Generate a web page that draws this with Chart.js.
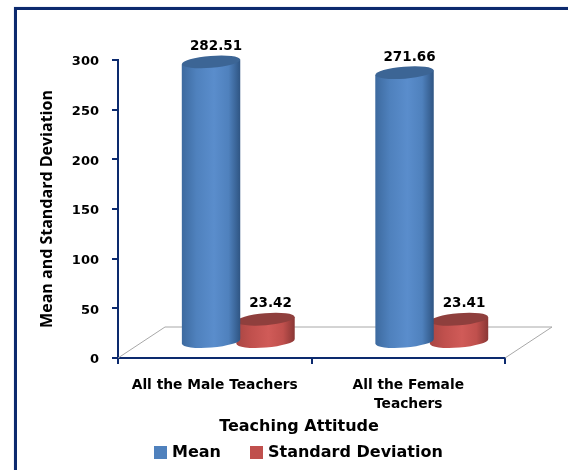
<!DOCTYPE html>
<html>
<head>
<meta charset="utf-8">
<style>
  html, body { margin: 0; padding: 0; background: #fff; }
  #wrap { position: relative; width: 568px; height: 470px; overflow: hidden; }
  #frame { position: absolute; left: 14px; top: 7px; width: 560px; height: 480px;
           border: 3px solid #0c2a6e; box-shadow: 0 0 1px #9fb2d6; }
  canvas { position: absolute; left: 0; top: 0; }
  #legend { position: absolute; left: 154px; top: 442px; display: flex; gap: 29px;
            font: bold 16px 'DejaVu Sans', sans-serif; line-height: 20px; color: #000; }
  #legend span.item { display: flex; align-items: center; gap: 5px; }
  #legend i { display: block; width: 13px; height: 13px; }
</style>
</head>
<body>
<div id="wrap">
  <div id="frame"></div>
  <canvas id="chart" width="568" height="470"></canvas>
  <div id="legend"></div>
</div>
<script src="https://cdn.jsdelivr.net/npm/chart.js@4/dist/chart.umd.js"></script>
<script>
const categories = ["All the Male Teachers", ["All the Female", "Teachers"]];
const meanValues = [282.51, 271.66];
const sdValues = [23.42, 23.41];
const yTicks = [0, 50, 100, 150, 200, 250, 300];
const xTitle = "Teaching Attitude";

const NAVY = "#0c2a6e";
const FONT = "'DejaVu Sans', sans-serif";
const NARROW = "'Open Sans', sans-serif";

// depth of the fake 3d floor, bars stand halfway into it
const depthX = 47;
const depthY = -31;

const palettes = [
    { flat: "#4f81bd", left: "#3d6a9f", right: "#2f5583", mid: "#5a8dcc", top: "#3c6595" },
    { flat: "#c0504d", left: "#a84643", right: "#8a3735", mid: "#d05b58", top: "#8f3f3d" }
];

function drawCylinder(ctx, bar, palette, extraWidth) {
    const cx = bar.x + depthX / 2;
    const top = bar.y + depthY / 2;
    const bottom = bar.base + depthY / 2;
    const rx = bar.width / 2 + extraWidth;
    const ry = 6;
    const tilt = -0.08;

    const grad = ctx.createLinearGradient(cx - rx, 0, cx + rx, 0);
    grad.addColorStop(0, palette.left);
    grad.addColorStop(0.25, palette.flat);
    grad.addColorStop(0.55, palette.mid);
    grad.addColorStop(0.8, palette.flat);
    grad.addColorStop(1, palette.right);

    const dy = Math.sin(tilt) * rx;
    ctx.save();
    ctx.fillStyle = grad;
    ctx.beginPath();
    ctx.moveTo(cx - rx, top - dy);
    ctx.lineTo(cx + rx, top + dy);
    ctx.lineTo(cx + rx, bottom + dy);
    ctx.ellipse(cx, bottom, rx, ry, tilt, 0, Math.PI);
    ctx.closePath();
    ctx.fill();

    ctx.fillStyle = palette.top;
    ctx.beginPath();
    ctx.ellipse(cx, top, rx, ry, tilt, 0, Math.PI * 2);
    ctx.fill();
    ctx.restore();
}

const cylinderPlugin = {
    id: "cylinders",
    beforeDatasetsDraw(chart) {
        // floor of the 3d box
        const { ctx, chartArea: a } = chart;
        ctx.save();
        ctx.strokeStyle = "#a8a8a8";
        ctx.lineWidth = 1;
        ctx.beginPath();
        ctx.moveTo(a.left, a.bottom);
        ctx.lineTo(a.left + depthX, a.bottom + depthY);
        ctx.lineTo(a.right + depthX, a.bottom + depthY);
        ctx.lineTo(a.right, a.bottom);
        ctx.stroke();
        ctx.restore();
    },
    beforeDatasetDraw(chart, args) {
        const meta = chart.getDatasetMeta(args.index);
        const values = chart.data.datasets[args.index].data;
        const ctx = chart.ctx;
        meta.data.forEach(function (bar, i) {
            drawCylinder(ctx, bar, palettes[args.index], 2);
            ctx.save();
            ctx.fillStyle = "#000";
            ctx.font = "bold 13.5px " + FONT;
            ctx.textAlign = "center";
            ctx.textBaseline = "alphabetic";
            ctx.fillText(values[i].toFixed(2), bar.x + depthX / 2 + 5, bar.y + depthY / 2 - 12);
            ctx.restore();
        });
        return false;
    },
    afterDraw(chart) {
        // axis title sits left of the plot centre in the original, scale title cant do that
        const ctx = chart.ctx;
        ctx.save();
        ctx.fillStyle = "#000";
        ctx.font = "bold 16px " + FONT;
        ctx.textAlign = "center";
        ctx.textBaseline = "middle";
        ctx.fillText(xTitle, 299, 427);
        ctx.restore();
    }
};

const chart = new Chart(document.getElementById("chart"), {
    type: "bar",
    data: {
        labels: categories,
        datasets: [
            { label: "Mean", data: meanValues, backgroundColor: palettes[0].flat,
              categoryPercentage: 0.563, barPercentage: 1 },
            { label: "Standard Deviation", data: sdValues, backgroundColor: palettes[1].flat,
              categoryPercentage: 0.563, barPercentage: 1 }
        ]
    },
    plugins: [cylinderPlugin],
    options: {
        responsive: false,
        animation: false,
        layout: { padding: { left: 38, top: 60, right: 63, bottom: 32 } },
        scales: {
            y: {
                min: 0,
                max: 300,
                afterBuildTicks(scale) { scale.ticks = yTicks.map(v => ({ value: v })); },
                afterFit(scale) { scale.width = 80; },
                grid: { drawOnChartArea: false, color: NAVY, lineWidth: 2, tickLength: 6 },
                border: { color: NAVY, width: 2 },
                ticks: {
                    color: "#000",
                    padding: 13,
                    labelOffset: 2,
                    font: { family: FONT, size: 13, weight: "bold" }
                },
                title: {
                    display: true,
                    text: "Mean and Standard Deviation",
                    color: "#000",
                    padding: 0,
                    font: { family: NARROW, size: 16, weight: "bold" }
                }
            },
            x: {
                afterFit(scale) { scale.height = 80; },
                grid: { drawOnChartArea: false, color: NAVY, lineWidth: 2, tickLength: 6 },
                border: { color: NAVY, width: 2 },
                ticks: {
                    color: "#000",
                    padding: 12,
                    maxRotation: 0,
                    autoSkip: false,
                    font: { family: FONT, size: 13.8, weight: "bold", lineHeight: 1.35 }
                }
            }
        },
        plugins: {
            legend: { display: false },
            tooltip: { enabled: false }
        }
    }
});

// html legend, the native one cant be placed off centre like the original
chart.data.datasets.forEach(function (ds) {
    const item = document.createElement("span");
    item.className = "item";
    const box = document.createElement("i");
    box.style.background = ds.backgroundColor;
    item.appendChild(box);
    item.appendChild(document.createTextNode(ds.label));
    document.getElementById("legend").appendChild(item);
});
</script>
</body>
</html>
